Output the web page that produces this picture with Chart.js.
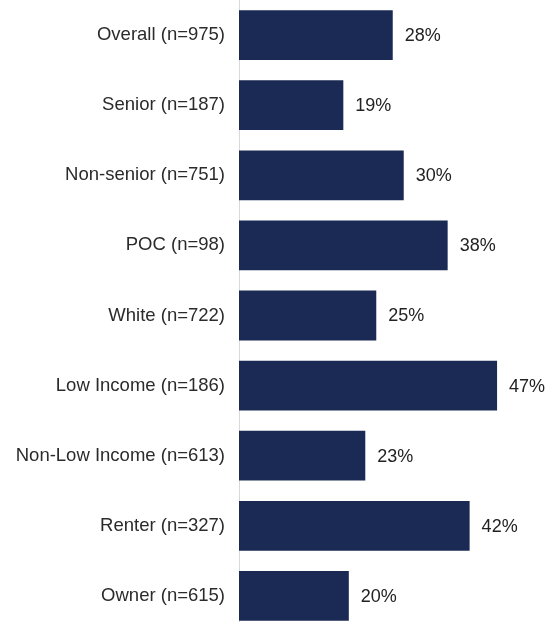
<!DOCTYPE html>
<html>
<head>
<meta charset="utf-8">
<script src="https://cdn.jsdelivr.net/npm/chart.js@4"></script>
<style>
  html, body { margin: 0; padding: 0; background: #fff; overflow: hidden; }
  #wrap { width: 548px; height: 631px; }
</style>
</head>
<body>
<div id="wrap"><canvas id="barChart" width="548" height="631"></canvas></div>
<script>
const groups = [
  "Overall (n=975)",
  "Senior (n=187)",
  "Non-senior (n=751)",
  "POC (n=98)",
  "White (n=722)",
  "Low Income (n=186)",
  "Non-Low Income (n=613)",
  "Renter (n=327)",
  "Owner (n=615)"
];
const shares = [28, 19, 30, 38, 25, 47, 23, 42, 20];

// percent labels to the right of each bar
const valueLabels = {
  id: "valueLabels",
  afterDatasetsDraw(chart) {
    const ctx = chart.ctx;
    const meta = chart.getDatasetMeta(0);
    ctx.save();
    ctx.font = "18px 'Liberation Sans', Arial, sans-serif";
    ctx.fillStyle = "#222";
    ctx.textAlign = "left";
    ctx.textBaseline = "middle";
    meta.data.forEach((bar, i) => {
      ctx.fillText(shares[i] + "%", bar.x + 12, bar.y + 1);
    });
    ctx.restore();
  }
};

const ctx = document.getElementById("barChart").getContext("2d");
new Chart(ctx, {
  type: "bar",
  data: {
    labels: groups,
    datasets: [
      {
        data: shares,
        backgroundColor: "#1b2a55",
        borderWidth: 0,
        barPercentage: 1,
        categoryPercentage: 0.71
      }
    ]
  },
  options: {
    indexAxis: "y",
    responsive: false,
    animation: false,
    devicePixelRatio: 1,
    layout: { padding: { left: 0, right: 7, top: 0, bottom: 0 } },
    plugins: {
      legend: { display: false },
      tooltip: { enabled: false }
    },
    scales: {
      x: {
        display: false,
        min: 0,
        max: 55
      },
      y: {
        afterFit: (scale) => {
          scale.width = 239;
          // tick padding also gets added top/bottom, drop it
          scale.paddingTop = 0;
          scale.paddingBottom = 0;
        },
        grid: { display: false, drawTicks: false },
        border: { display: true, color: "#d9d9d9", width: 1 },
        ticks: {
          padding: 14,
          color: "#2b2b2b",
          font: { family: "'Liberation Sans', Arial, sans-serif", size: 18.5 }
        }
      }
    }
  },
  plugins: [valueLabels]
});
</script>
</body>
</html>
